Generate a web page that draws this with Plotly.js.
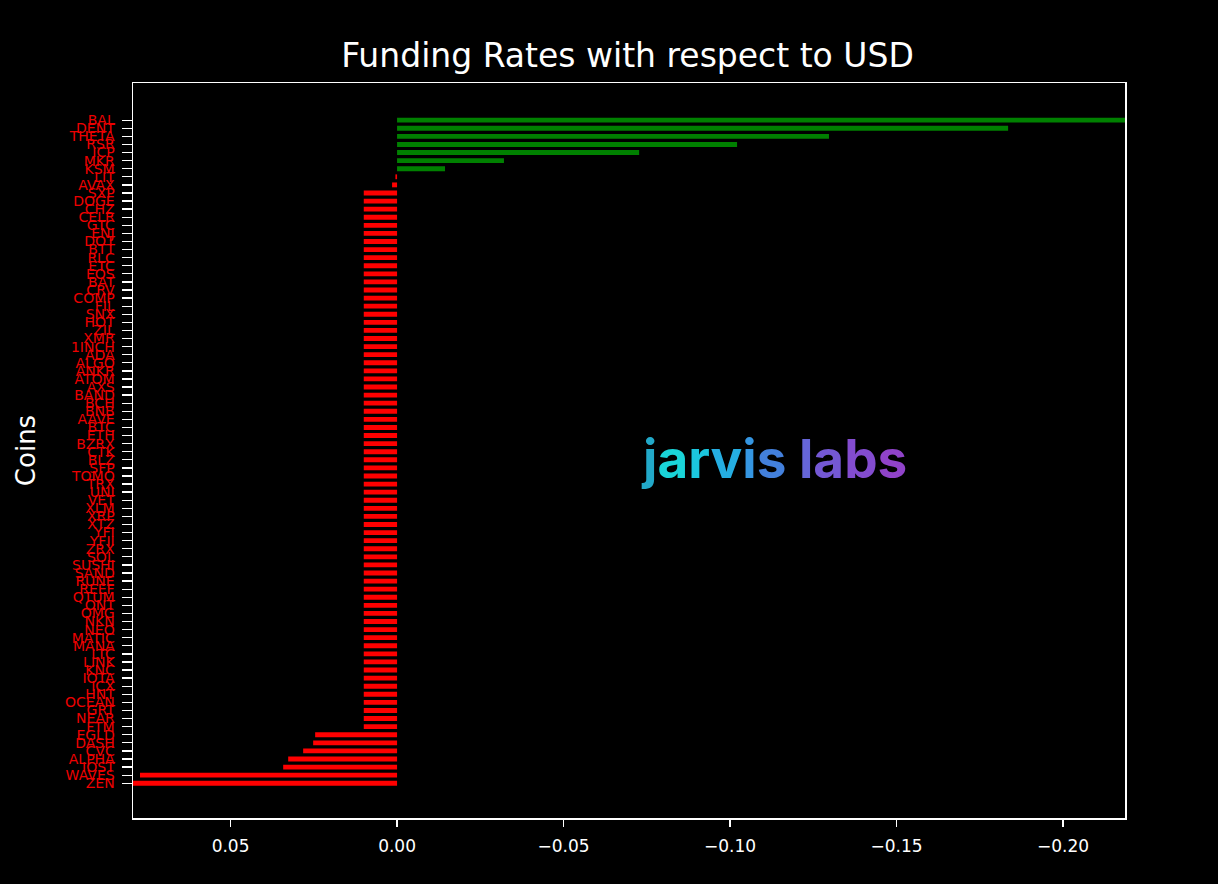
<!DOCTYPE html>
<html>
<head>
<meta charset="utf-8">
<script src="https://cdn.plot.ly/plotly-3.0.1.min.js"></script>
<style>
  html, body { margin: 0; padding: 0; background: #000; }
  #chart { width: 1218px; height: 884px; }
</style>
</head>
<body>
<div id="chart"></div>
<script>
// Coins, top to bottom
const coins = [
  "BAL","DENT","THETA","RSR","ICP","MKR","KSM","LIT","AVAX","SXP",
  "DOGE","CHZ","CELR","GTC","ENJ","DOT","BTT","RLC","ETC","EOS",
  "BAT","CRV","COMP","FIL","SNX","HOT","ZIL","XMR","1INCH","ADA",
  "ALGO","ANKR","ATOM","AXS","BAND","BCH","BNB","AAVE","BTC","ETH",
  "BZRX","CTK","BLZ","SFP","TOMO","TRX","UNI","VET","XLM","XRP",
  "XTZ","YFI","YFII","ZRX","SOL","SUSHI","SAND","RUNE","REEF","QTUM",
  "ONT","OMG","NKN","NEO","MATIC","MANA","LTC","LINK","KNC","IOTA",
  "ICX","HNT","OCEAN","GRT","NEAR","FTM","EGLD","DASH","CVC","ALPHA",
  "IOST","WAVES","ZEN"
];

// Funding rates
const rates = [
  -0.2186,-0.1835,-0.1297,-0.1021,-0.0727,-0.0321,-0.0144,0.0005,0.0015,0.0100,
  0.0100,0.0100,0.0100,0.0100,0.0100,0.0100,0.0100,0.0100,0.0100,0.0100,
  0.0100,0.0100,0.0100,0.0100,0.0100,0.0100,0.0100,0.0100,0.0100,0.0100,
  0.0100,0.0100,0.0100,0.0100,0.0100,0.0100,0.0100,0.0100,0.0100,0.0100,
  0.0100,0.0100,0.0100,0.0100,0.0100,0.0100,0.0100,0.0100,0.0100,0.0100,
  0.0100,0.0100,0.0100,0.0100,0.0100,0.0100,0.0100,0.0100,0.0100,0.0100,
  0.0100,0.0100,0.0100,0.0100,0.0100,0.0100,0.0100,0.0100,0.0100,0.0100,
  0.0100,0.0100,0.0100,0.0100,0.0100,0.0100,0.0246,0.0252,0.0282,0.0327,
  0.0342,0.0772,0.0793
];

// X tick labels
const xTickVals = [0.05, 0.00, -0.05, -0.10, -0.15, -0.20];
const xTickText = ["0.05", "0.00", "\u22120.05", "\u22120.10", "\u22120.15", "\u22120.20"];

const barColors = rates.map(v => v < 0 ? "#008000" : "#ff0000");

const trace = {
  type: "bar",
  orientation: "h",
  x: rates,
  y: coins,
  width: 0.6,
  marker: { color: barColors, line: { width: 0 } },
  hoverinfo: "x+y"
};

const n = coins.length;

// Watermark letters with colors
const wmLetters = [
  ["j", "#22a9c9"], ["a", "#1ad4d8"], ["r", "#1bc6de"], ["v", "#25aee2"],
  ["i", "#3596e2"], ["s", "#4380dc"], [" ", "#000"], ["l", "#6565d8"],
  ["a", "#7458d4"], ["b", "#834ccf"], ["s", "#9043c9"]
];
const wmText = wmLetters.map(p => `<span style="color:${p[1]}">${p[0]}</span>`).join("");

const layout = {
  width: 1218,
  height: 884,
  paper_bgcolor: "#000",
  plot_bgcolor: "#000",
  margin: { l: 133, r: 93, t: 83, b: 66 },
  showlegend: false,
  title: {
    text: "Funding Rates with respect to USD",
    font: { family: "DejaVu Sans", size: 33, color: "#ffffff" },
    x: 0.4985, xref: "paper", xanchor: "center",
    y: 0.937, yref: "container", yanchor: "middle"
  },
  xaxis: {
    range: [0.0793, -0.2186],
    tickmode: "array",
    tickvals: xTickVals,
    ticktext: xTickText,
    tickfont: { family: "DejaVu Sans", size: 17, color: "#ffffff" },
    ticks: "outside", ticklen: 7, tickwidth: 1.3, tickcolor: "#ffffff",
    ticklabelstandoff: 5,
    showgrid: false, zeroline: false,
    showline: true, linecolor: "#ffffff", linewidth: 1.5, mirror: true
  },
  yaxis: {
    type: "category",
    range: [n - 1 + 4.3, -4.6],
    tickmode: "linear", dtick: 1, tick0: 0,
    tickfont: { family: "DejaVu Sans", size: 14, color: "#ee0000" },
    ticks: "outside", ticklen: 10, tickwidth: 1.3, tickcolor: "#ffffff",
    ticklabelstandoff: 4,
    showgrid: false, zeroline: false,
    showline: true, linecolor: "#ffffff", linewidth: 1.5, mirror: true,
    title: {
      text: "Coins",
      font: { family: "DejaVu Sans", size: 26, color: "#ffffff" },
      standoff: 22
    },
    automargin: false
  },
  annotations: [
    {
      text: wmText,
      xref: "paper", yref: "paper",
      x: 0.646, y: 0.488,
      xanchor: "center", yanchor: "middle",
      showarrow: false,
      font: { family: "Inter", size: 53, weight: 700, color: "#4a8fe0" }
    }
  ]
};

Plotly.newPlot("chart", [trace], layout, { displayModeBar: false, staticPlot: true });
</script>
</body>
</html>
